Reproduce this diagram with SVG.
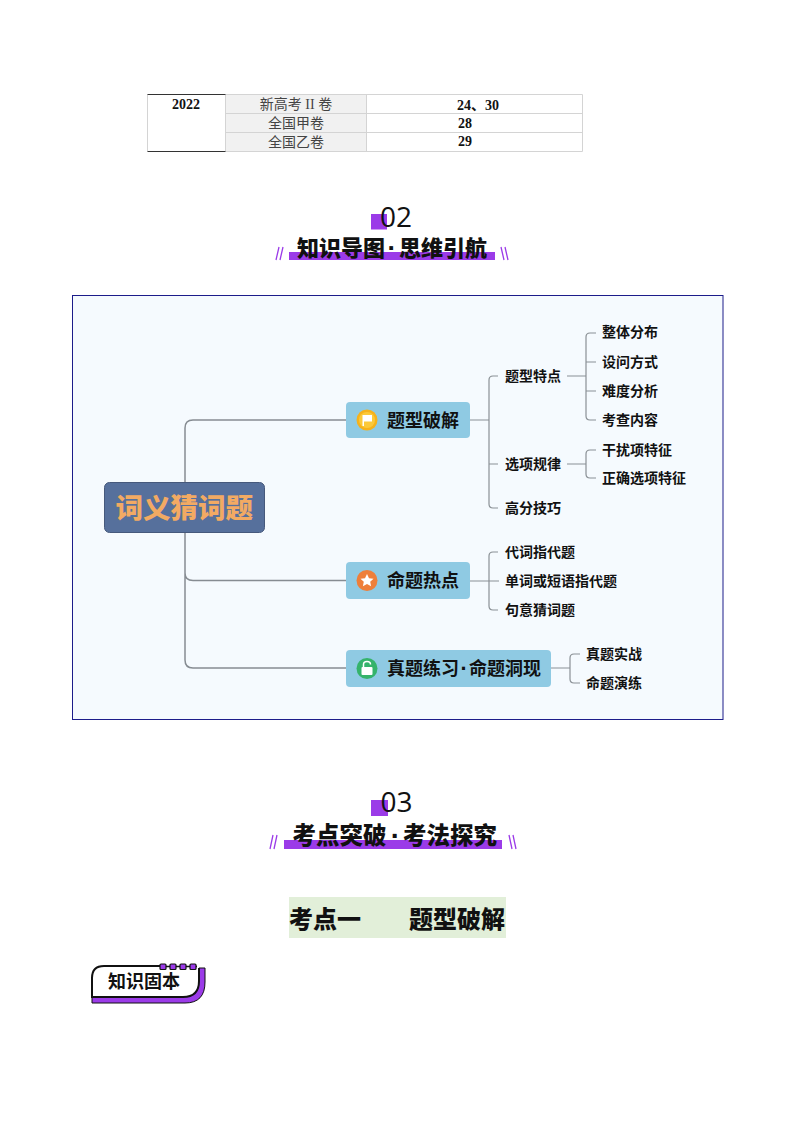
<svg xmlns="http://www.w3.org/2000/svg" width="794" height="1122" viewBox="0 0 794 1122">
<style>
text{font-family:"Noto Sans CJK SC","Noto Sans",sans-serif;fill:#111}
.cell{font-family:"Liberation Serif","Noto Sans CJK SC",serif;font-size:14px;text-anchor:middle}
.b{font-weight:700}
.lt{fill:#444}
.title{font-weight:900}
.dot{font-family:"Liberation Sans",sans-serif;font-weight:700;text-anchor:middle;font-size:1.200em}
.num{font-family:"Open Sans","Noto Sans",sans-serif;font-size:28px;fill:#111}
.pur{fill:#9b3be8}
.sl{stroke:#9b3be8;stroke-width:1.300;fill:none}
.topic{fill:#8fcae3}
.tt{font-size:18px;font-weight:700}
.leaf{font-size:14px;font-weight:700}
.wire{fill:none;stroke:#868c92;stroke-width:1.500}
.wire2{fill:none;stroke:#8a9095;stroke-width:1.200}
.tb{stroke:#d4d4d4;stroke-width:1;fill:none}
</style>

<g id="table">
<rect x="225.500" y="94.500" width="141" height="57" fill="#f1f1f1"/>
<path class="tb" d="M147.500 94.500V151.500M225.500 94.500H582.500V151.500H225.500M225.500 113.500H582.500M225.500 132.500H582.500M225.500 94.500V151.500M366.500 94.500V151.500"/>
<path d="M147.500 94.500H225.500M147.500 151.500H225.500" fill="none" stroke="#333" stroke-width="1"/>
<text class="cell b" x="186" y="108.500">2022</text>
<text class="cell lt" x="296" y="109">新高考 II 卷</text>
<text class="cell b" x="478" y="109.500">24、30</text>
<text class="cell lt" x="296" y="127.500">全国甲卷</text>
<text class="cell b" x="465" y="127.500">28</text>
<text class="cell lt" x="296" y="146.500">全国乙卷</text>
<text class="cell b" x="465" y="146">29</text>
</g>

<g id="heading-02">
<rect class="pur" x="371" y="214" width="16" height="15.500"/>
<text class="num" x="380" y="226.500">02</text>
<rect class="pur" x="289" y="252" width="206" height="8"/>
<text class="title" y="256" font-size="22px"><tspan x="297">知识导图</tspan><tspan class="dot" x="392" dy="1">·</tspan><tspan x="399" dy="-1">思维引航</tspan></text>
<path class="sl" d="M279 247L276 260M283 247L280 260M501 247L504 260M505 247L508 260"/>
</g>

<g id="mindmap-frame">
<rect x="72.500" y="295.500" width="650.500" height="424" fill="#f5fafe" stroke="#1c1c8a" stroke-width="1"/>
</g>

<g id="connectors">
<path class="wire" d="M185 482V428Q185 420 193 420H346M185 533V573Q185 580.500 193 580.500H346M185 533V660Q185 668 193 668H346"/>
<path class="wire2" d="M470 420H489M498 376H493Q489 376 489 380V504Q489 508 493 508H498M489 464H498"/>
<path class="wire2" d="M567 376H586M596 333H590Q586 333 586 337V416Q586 420 590 420H596M586 362H596M586 391H596"/>
<path class="wire2" d="M567 464H586M596 450H590Q586 450 586 454V474Q586 478 590 478H596"/>
<path class="wire2" d="M470 581H499M498 552H493Q489 552 489 556V606Q489 610 493 610H498"/>
<path class="wire2" d="M551 668H570M580 654H574Q570 654 570 658V679Q570 683 574 683H580"/>
</g>

<g id="root">
<rect x="104.500" y="482.500" width="160" height="50" rx="5" fill="#56709c" stroke="#46597c" stroke-width="1"/>
<text x="115.500" y="517.500" font-size="27.500px" font-weight="900" style="fill:#f2aa63">词义猜词题</text>
</g>

<g id="topic-1">
<rect class="topic" x="346" y="402" width="124" height="36" rx="4"/>
<circle cx="367" cy="420" r="10.500" fill="#f6b21b"/>
<circle cx="367" cy="420" r="8" fill="#fbc93a"/>
<path d="M362.500 415H372V421.500H364V426H362.500Z" fill="#fff"/>
<text class="tt" x="387" y="426.500">题型破解</text>
</g>
<g id="topic-2">
<rect class="topic" x="346" y="562" width="124" height="37" rx="4"/>
<circle cx="367" cy="580.500" r="10.500" fill="#ee7f3a"/>
<path d="M367 574L369 578.300L373.500 578.800L370.200 581.800L371.100 586.300L367 584L362.900 586.300L363.800 581.800L360.500 578.800L365 578.300Z" fill="#fff"/>
<text class="tt" x="387" y="587">命题热点</text>
</g>
<g id="topic-3">
<rect class="topic" x="346" y="650" width="205" height="37" rx="4"/>
<circle cx="367" cy="668.500" r="10.500" fill="#35b36b"/>
<rect x="361.500" y="667" width="11" height="8" rx="1" fill="#fff"/>
<path d="M363.500 667V664.500Q363.500 661.500 367 661.500Q370.500 661.500 370.500 664.500" fill="none" stroke="#fff" stroke-width="1.500"/>
<text class="tt" y="675"><tspan x="387">真题练习</tspan><tspan class="dot" x="464" dy="1">·</tspan><tspan x="469" dy="-1">命题洞现</tspan></text>
</g>

<g id="leaf-tixing"><text class="leaf" x="505" y="381">题型特点</text></g>
<g id="leaf-xuanxiang"><text class="leaf" x="505" y="469">选项规律</text></g>
<g id="leaf-gaofen"><text class="leaf" x="505" y="513">高分技巧</text></g>
<g id="leaf-zhengti"><text class="leaf" x="602" y="337">整体分布</text></g>
<g id="leaf-sheweng"><text class="leaf" x="602" y="367">设问方式</text></g>
<g id="leaf-nandu"><text class="leaf" x="602" y="396">难度分析</text></g>
<g id="leaf-kaocha"><text class="leaf" x="602" y="425">考查内容</text></g>
<g id="leaf-ganrao"><text class="leaf" x="602" y="455">干扰项特征</text></g>
<g id="leaf-zhengque"><text class="leaf" x="602" y="483">正确选项特征</text></g>
<g id="leaf-daici"><text class="leaf" x="505" y="557">代词指代题</text></g>
<g id="leaf-danci"><text class="leaf" x="505" y="586">单词或短语指代题</text></g>
<g id="leaf-juyi"><text class="leaf" x="505" y="615">句意猜词题</text></g>
<g id="leaf-zhenti"><text class="leaf" x="586" y="659">真题实战</text></g>
<g id="leaf-mingti"><text class="leaf" x="586" y="688">命题演练</text></g>

<g id="heading-03">
<rect class="pur" x="371" y="800" width="17" height="16"/>
<text class="num" x="380.500" y="812">03</text>
<rect class="pur" x="284" y="840" width="218" height="9"/>
<text class="title" y="844" font-size="23.500px"><tspan x="292.500">考点突破</tspan><tspan class="dot" x="395.500" dy="1">·</tspan><tspan x="403" dy="-1">考法探究</tspan></text>
<path class="sl" d="M273 835L270 849M277 835L274 849M509 835L512 849M513 835L516 849"/>
</g>

<g id="section-title">
<rect x="289" y="897" width="217" height="41" fill="#e2efd9"/>
<text x="289" y="928" font-size="24px" font-weight="900">考点一</text>
<text x="409" y="928" font-size="24px" font-weight="900">题型破解</text>
</g>

<g id="badge">
<path d="M92 1001V996H184Q199 996 199 980V968H205V982Q205 1003 185 1003H92Z" fill="#9b3be8" stroke="#111" stroke-width="1"/>
<path d="M160 966H104Q92 966 92 978V997H183Q199 997 199 981V968" fill="#fff" stroke="#111" stroke-width="2"/>
<path d="M160 966.500H197" stroke="#111" stroke-width="1.500" fill="none"/>
<g fill="#9b3be8" stroke="#111" stroke-width="1.200">
<rect x="160" y="964" width="6" height="5.500" rx="1"/>
<rect x="170" y="964" width="6" height="5.500" rx="1"/>
<rect x="180" y="964" width="6" height="5.500" rx="1"/>
<rect x="190" y="964" width="6" height="5.500" rx="1"/>
</g>
<text x="108" y="988" font-size="18px" font-weight="700">知识固本</text>
</g>
</svg>
